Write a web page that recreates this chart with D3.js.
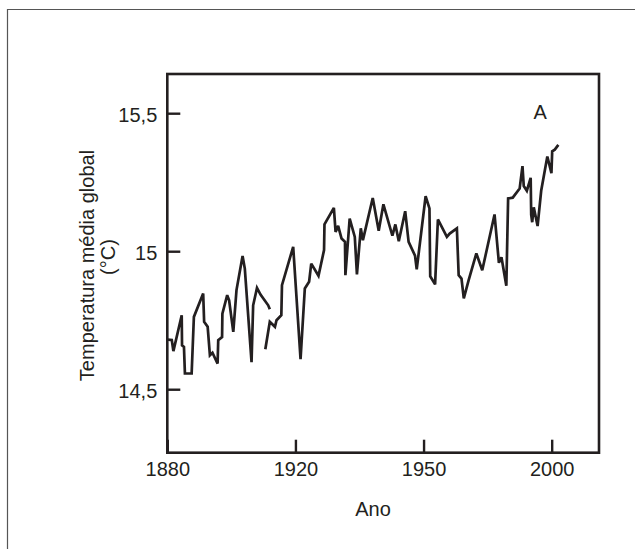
<!DOCTYPE html>
<html>
<head>
<meta charset="utf-8">
<script src="https://cdn.jsdelivr.net/npm/d3@7"></script>
<style>
  html, body { margin: 0; padding: 0; background: #fff; }
  svg { display: block; }
  text { font-family: "Liberation Sans", Arial, Helvetica, sans-serif; fill: #231f20; }
</style>
</head>
<body>
<svg id="chart" width="635" height="549"></svg>
<script>
// ---- data ----
const years = [
  1880, 1881.4, 1881.9, 1884.5, 1884.6, 1885.2, 1885.5, 1887.6, 1888.3, 1891.2,
  1891.5, 1892.6, 1893.3, 1894.1, 1895.7, 1895.9, 1897.1, 1897.2, 1898.7, 1899.3,
  1900.6, 1901.6, 1903.5, 1904.2, 1906.3, 1906.8, 1908.0, 1909.1, 1911.5, 1912.0,
  1911.0,
  1910.6, 1912.0, 1913.6, 1914.1, 1915.6, 1915.8, 1919.3, 1921.2, 1922.2, 1923.2,
  1923.7, 1925.4, 1926.7, 1926.8, 1929.0, 1929.4, 1930.0, 1930.8, 1931.6, 1931.7,
  1932.7, 1933.9, 1934.4, 1935.3, 1935.8, 1938.1, 1939.5, 1940.6, 1942.7, 1943.4,
  1944.2, 1945.7, 1946.5, 1948.0, 1948.4, 1950.8, 1952.3, 1952.6, 1954.5, 1955.6,
  1959.1, 1960.2, 1963.0, 1963.7, 1964.8, 1965.7, 1967.6, 1970.6, 1972.9, 1977.7,
  1979.4, 1980.4, 1982.3, 1983.0, 1984.8, 1987.5, 1988.6, 1989.1, 1990.3, 1991.8,
  1992.0, 1992.4, 1993.0, 1994.5, 1995.9, 1998.3, 1999.9, 2000.2, 2001.2, 2002.6
];
const temps = [
  14.680, 14.678, 14.638, 14.768, 14.659, 14.653, 14.557, 14.557, 14.762, 14.847,
  14.744, 14.726, 14.623, 14.632, 14.593, 14.678, 14.689, 14.774, 14.841, 14.822,
  14.708, 14.859, 14.983, 14.937, 14.598, 14.804, 14.867, 14.843, 14.804, 14.790,
  null,
  14.645, 14.744, 14.726, 14.750, 14.768, 14.877, 15.016, 14.609, 14.865, 14.889,
  14.955, 14.911, 15.004, 15.097, 15.157, 15.070, 15.092, 15.046, 15.034, 14.913,
  15.118, 15.052, 14.916, 15.083, 15.040, 15.193, 15.074, 15.170, 15.056, 15.097,
  15.036, 15.145, 15.034, 14.984, 14.934, 15.199, 15.155, 14.909, 14.880, 15.115,
  15.052, 15.064, 15.083, 14.913, 14.901, 14.829, 14.895, 14.992, 14.931, 15.133,
  14.958, 14.978, 14.875, 15.191, 15.194, 15.227, 15.308, 15.236, 15.219, 15.266,
  15.132, 15.105, 15.159, 15.091, 15.219, 15.343, 15.283, 15.362, 15.368, 15.385
];
const xTicks = [1880, 1920, 1950, 2000];
const yTicks = [14.5, 15, 15.5];
const yDomain = [14.27, 15.642];
const xTitle = "Ano";
const yTitle = ["Temperatura média global", "(°C)"];
const seriesLabel = "A";

// ---- layout ----
const L = 167.3, R = 599, T = 74, B = 452.7;
const tickStep = 128.13; // labelled ticks are evenly spaced in the original figure
const FS = 20;

const svg = d3.select("#chart");
const ink = "#231f20";

// outer figure border (top + left)
svg.append("path")
  .attr("d", `M7.5,549 V9.5 H635`)
  .attr("fill", "none").attr("stroke", "#555").attr("stroke-width", 1.2);

const x = d3.scaleLinear()
  .domain(xTicks)
  .range(xTicks.map((d, i) => L + i * tickStep));
const y = d3.scaleLinear().domain(yDomain).range([B, T]);

const fmt = d => String(d).replace(".", ",");

// y axis
const gy = svg.append("g").attr("transform", `translate(${L},0)`)
  .call(d3.axisLeft(y).tickValues(yTicks).tickSize(-13).tickPadding(10).tickFormat(fmt));
gy.select(".domain").remove();
gy.selectAll(".tick line").attr("stroke", ink).attr("stroke-width", 2.4);
gy.selectAll(".tick text").attr("font-size", FS).attr("dy", "0.4em")
  .attr("font-family", null).style("fill", ink);

// x axis
const gx = svg.append("g").attr("transform", `translate(0,${B})`)
  .call(d3.axisBottom(x).tickValues(xTicks).tickSize(-13).tickPadding(9).tickFormat(d3.format("d")));
gx.select(".domain").remove();
gx.selectAll(".tick line").attr("stroke", ink).attr("stroke-width", 2.4);
gx.selectAll(".tick text").attr("font-size", FS).attr("font-family", null).style("fill", ink);

// frame
svg.append("rect")
  .attr("x", L).attr("y", T).attr("width", R - L).attr("height", B - T)
  .attr("fill", "none").attr("stroke", ink).attr("stroke-width", 2.6);

// data line
const pts = years.map((yr, i) => ({ yr, t: temps[i] }));
const line = d3.line()
  .defined(d => d.t !== null)
  .x(d => x(d.yr))
  .y(d => y(d.t));
svg.append("path")
  .datum(pts)
  .attr("d", line)
  .attr("fill", "none")
  .attr("stroke", ink)
  .attr("stroke-width", 2.7)
  .attr("stroke-linejoin", "miter")
  .attr("stroke-miterlimit", 3);

// series label
svg.append("text")
  .attr("x", x(1995.5)).attr("y", y(15.48))
  .attr("text-anchor", "middle").attr("font-size", FS)
  .text(seriesLabel);

// titles
svg.append("text")
  .attr("x", 373).attr("y", 516)
  .attr("text-anchor", "middle").attr("font-size", FS)
  .text(xTitle);

svg.append("text")
  .attr("transform", "translate(94,265.5) rotate(-90)")
  .attr("text-anchor", "middle").attr("font-size", FS)
  .text(yTitle[0]);
svg.append("text")
  .attr("transform", "translate(115,257) rotate(-90)")
  .attr("text-anchor", "middle").attr("font-size", FS)
  .text(yTitle[1]);
</script>
</body>
</html>
